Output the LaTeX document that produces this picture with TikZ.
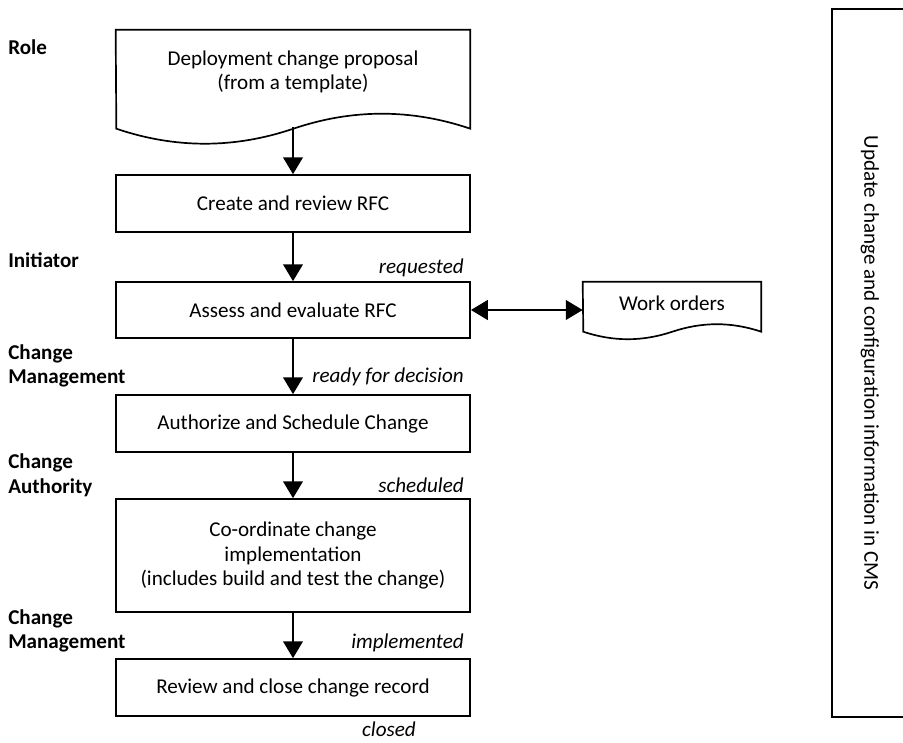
\documentclass[tikz,border=0pt]{standalone}
\usepackage{fontspec}
\setmainfont{Carlito}
\usepackage{tikz}
\usetikzlibrary{arrows.meta,calc,positioning}
\tikzstyle{stepbox}=[draw,line width=1.2pt,minimum width=8.85cm,minimum height=1.425cm,align=center,inner sep=0pt]
\tikzstyle{docbox}=[minimum width=8.85cm,minimum height=2.1cm,align=center,inner sep=0pt]
\tikzstyle{role}=[anchor=west,align=left,inner sep=0pt,font=\bfseries]
\tikzstyle{state}=[anchor=east,inner sep=0pt,font=\itshape]
\tikzstyle{flow}=[-{Triangle[width=14pt,length=12pt]},line width=1.4pt]
\tikzstyle{outline}=[line width=1.2pt]

\begin{document}
\fontsize{15}{17.5}\selectfont
\begin{tikzpicture}[x=0.025cm,y=-0.025cm]
  \useasboundingbox (0,0) rectangle (903,743);
  \clip (0,0) rectangle (903,743);

  \node[docbox] (prop) at (293,72) {Deployment change proposal\\(from a template)};
  \node[stepbox] (create) at (293,203.5) {Create and review RFC};
  \node[stepbox,minimum height=1.4cm] (assess) at (293,310) {Assess and evaluate RFC};
  \node[stepbox] (auth) at (293,423.5) {Authorize and Schedule Change};
  \node[stepbox,minimum height=2.825cm] (coord) at (293,555.5) {Co-ordinate change\\implementation\\(includes build and test the change)};
  \node[stepbox] (review) at (293,687.5) {Review and close change record};
  \node[docbox,minimum width=4.45cm,minimum height=1.05cm] (work) at (672,303) {Work orders};
  \node[draw,line width=1.2pt,rotate=-90,minimum width=17.7cm,minimum height=1.9cm,inner sep=0pt] (cms) at (870,363) {Update change and configuration information in CMS};

  % wavy bottom edges of the two documents
  \draw[outline] (prop.north west) -- (prop.north east) -- ++(0,99)
    .. controls +(-59,-20) and +(59,-20) .. ++(-177,0)
    .. controls +(-59,20) and +(59,20) .. ++(-177,0) -- cycle;
  \draw[outline] (work.north west) -- (work.north east) -- ++(0,50)
    .. controls +(-30,-10) and +(30,-10) .. ++(-89,0)
    .. controls +(-30,10) and +(30,10) .. ++(-89,0) -- cycle;
  \coordinate (prop-out) at ($(prop.south)+(0,13)$);

  \node[role] (lrole) at (8,47) {Role};
  \node[role] (linit) at (8,260) {Initiator};
  \node[role] (lcm1) at (8,366) {Change\\Management};
  \node[role] (lca) at (8,475.5) {Change\\Authority};
  \node[role] (lcm2) at (8,631) {Change\\Management};

  \node[state] (srequested) at (464,268) {requested};
  \node[state] (sready) at (464,377) {ready for decision};
  \node[state] (sscheduled) at (464,485) {scheduled};
  \node[state] (simplemented) at (464,643) {implemented};
  \node[inner sep=0pt,font=\itshape] (sclosed) at (389,729) {closed};

  \foreach \from/\to in {prop-out/create,create/assess,assess/auth,auth/coord,coord/review}
      \draw[flow] (\from) -- (\to);
  \draw[flow,{Triangle[width=14pt,length=12pt]}-{Triangle[width=14pt,length=12pt]}] (assess.east) -- (assess.east -| work.west);
\end{tikzpicture}
\end{document}
